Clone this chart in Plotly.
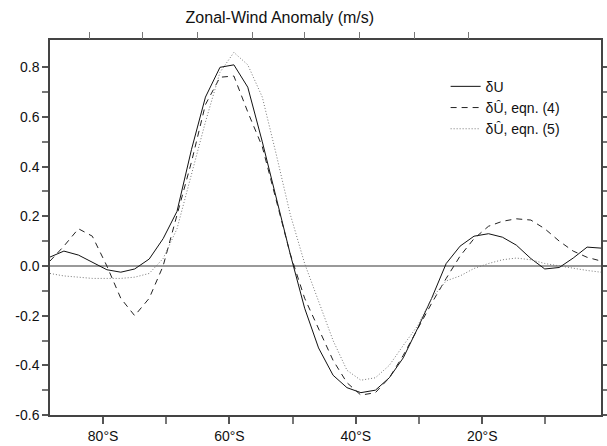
import plotly.graph_objects as go

# Latitudes (negative = southern hemisphere)
lat = [-88.4, -86.2, -83.9, -81.7, -79.4, -77.2, -75.0, -72.7, -70.5, -68.3,
       -66.0, -63.8, -61.5, -59.3, -57.1, -54.8, -52.6, -50.4, -48.1, -45.9,
       -43.6, -41.4, -39.2, -36.9, -34.7, -32.5, -30.2, -28.0, -25.7, -23.5,
       -21.3, -19.0, -16.8, -14.6, -12.3, -10.1, -7.8, -5.6, -3.4, -1.2]

dU = [0.036, 0.06, 0.044, 0.015, -0.015, -0.025, -0.012, 0.028, 0.11, 0.22,
      0.47, 0.68, 0.80, 0.81, 0.72, 0.50, 0.27, 0.05, -0.17, -0.33,
      -0.44, -0.49, -0.51, -0.50, -0.45, -0.37, -0.25, -0.13, 0.01, 0.08,
      0.12, 0.13, 0.116, 0.084, 0.03, -0.012, -0.006, 0.032, 0.076, 0.072]

dU_eq4 = [0.02, 0.08, 0.15, 0.12, 0.0, -0.13, -0.20, -0.13, 0.0, 0.20,
          0.42, 0.65, 0.76, 0.765, 0.62, 0.48, 0.27, 0.05, -0.13, -0.25,
          -0.38, -0.47, -0.52, -0.51, -0.45, -0.36, -0.25, -0.15, -0.05, 0.04,
          0.11, 0.16, 0.18, 0.19, 0.185, 0.15, 0.10, 0.06, 0.035, 0.02]

dU_eq5 = [-0.03, -0.04, -0.045, -0.05, -0.05, -0.05, -0.045, -0.03, 0.03, 0.15,
          0.37, 0.58, 0.78, 0.86, 0.81, 0.68, 0.45, 0.21, 0.01, -0.14,
          -0.30, -0.42, -0.46, -0.45, -0.40, -0.32, -0.24, -0.13, -0.06, -0.04,
          -0.01, 0.01, 0.025, 0.032, 0.025, 0.01, 0.0, -0.01, -0.018, -0.025]

xtick_vals = [-80, -60, -40, -20]
xtick_text = ["80°S", "60°S", "40°S", "20°S"]
xminor_vals = [-70, -50, -30, -10]
ytick_vals = [-0.6, -0.4, -0.2, 0.0, 0.2, 0.4, 0.6, 0.8]
ytick_text = ["-0.6", "-0.4", "-0.2", "0.0", "0.2", "0.4", "0.6", "0.8"]
yminor_vals = [-0.5, -0.3, -0.1, 0.1, 0.3, 0.5, 0.7]
top_tick_vals = [-82.2, -73.7, -65.0, -56.4, -48.1, -39.4, -30.7, -22.1]

FONT = "Liberation Sans, Arial, Helvetica, sans-serif"

fig = go.Figure()
fig.add_trace(go.Scatter(x=lat, y=dU, mode="lines", name="δU",
                         line=dict(color="#111111", width=1)))
fig.add_trace(go.Scatter(x=lat, y=dU_eq4, mode="lines", name="δÛ, eqn. (4)",
                         line=dict(color="#222222", width=1, dash="6px,5px")))
fig.add_trace(go.Scatter(x=lat, y=dU_eq5, mode="lines", name="δÛ, eqn. (5)",
                         line=dict(color="#777777", width=1, dash="1px,2px")))
# invisible trace to carry the top-axis ticks
fig.add_trace(go.Scatter(x=[lat[0], lat[-1]], y=[0, 0], mode="lines", xaxis="x2",
                         line=dict(width=0), showlegend=False, hoverinfo="skip"))

fig.update_layout(
    width=607, height=446,
    margin=dict(l=50, r=6, t=40, b=31),
    paper_bgcolor="white", plot_bgcolor="white",
    font=dict(family=FONT, size=14, color="#111111"),
    title=dict(text="Zonal-Wind Anomaly (m/s)", x=0.461, xref="container",
               xanchor="center", y=0.962, yanchor="middle",
               font=dict(size=16, family=FONT)),
    showlegend=True,
    legend=dict(x=0.718, y=0.918, xanchor="left", yanchor="top",
                bgcolor="rgba(0,0,0,0)", itemwidth=30, tracegroupgap=0,
                font=dict(size=14, family=FONT)),
    xaxis=dict(range=[-88.4, -1.2], tickvals=xtick_vals, ticktext=xtick_text,
               ticks="outside", ticklen=7, tickwidth=1.5, tickcolor="#555555",
               minor=dict(tickvals=xminor_vals, ticks="outside", ticklen=7,
                          tickwidth=1.5, tickcolor="#777777"),
               showline=True, linecolor="#444444", linewidth=1.5, mirror=True,
               showgrid=False, zeroline=False, ticklabelstandoff=0,
               automargin=False),
    xaxis2=dict(range=[-88.4, -1.2], overlaying="x", side="top",
                tickvals=top_tick_vals, ticktext=[""] * len(top_tick_vals),
                ticks="outside", ticklen=7, tickwidth=1.2, tickcolor="#777777",
                showline=False, showgrid=False, zeroline=False,
                automargin=False),
    yaxis=dict(range=[-0.6, 0.91], tickvals=ytick_vals, ticktext=ytick_text,
               ticks="outside", ticklen=6, tickwidth=1.5, tickcolor="#555555",
               minor=dict(tickvals=yminor_vals, ticks="outside", ticklen=6,
                          tickwidth=1.5, tickcolor="#777777"),
               showline=True, linecolor="#444444", linewidth=1.5, mirror="ticks",
               showgrid=False, zeroline=True, zerolinecolor="#999999",
               zerolinewidth=2, automargin=False),
)

fig.write_html("out.html")
